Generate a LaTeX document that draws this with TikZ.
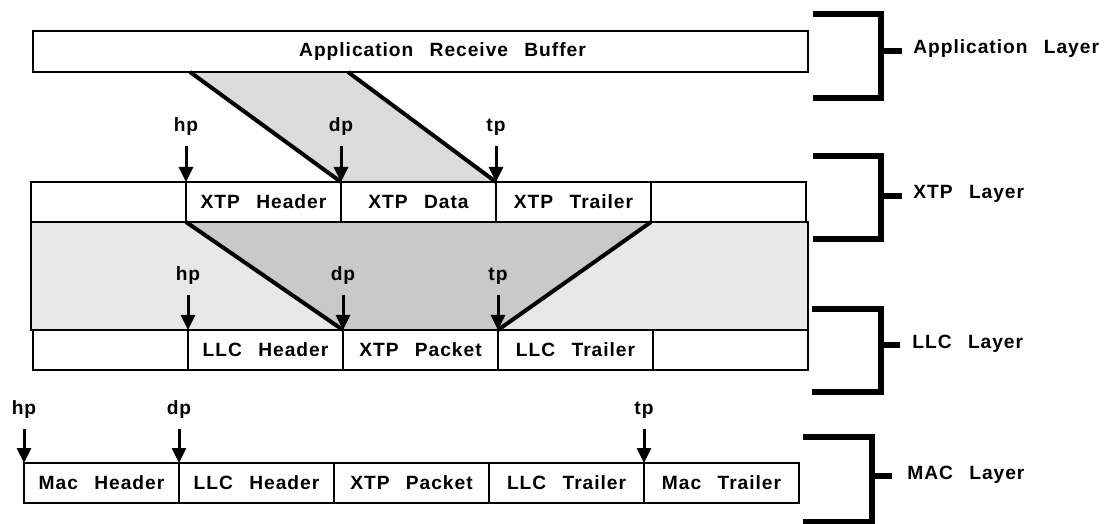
\documentclass[tikz,border=0pt]{standalone}
\usepackage{fontspec}
\setsansfont{Liberation Sans}[LetterSpace=5,WordSpace=2.6]
\usetikzlibrary{arrows.meta,positioning,backgrounds}
\newcommand\lbfont{\sffamily\bfseries\fontsize{9.6}{11}\selectfont}

\begin{document}
\begin{tikzpicture}[x=0.5pt,y=-0.5pt,
  cell/.style={draw,line width=1.3pt,fill=white,outer sep=0pt,inner sep=0pt,
    minimum width=77.5pt,minimum height=20pt,anchor=north west,font=\lbfont},
  ptrlabel/.style={inner sep=1pt,font=\lbfont},
  ptr/.style={line width=1.5pt,-{Triangle[length=7.5pt,width=7pt]},shorten <=4pt},
  slant/.style={line width=2pt},
  brace/.style={line width=3.3pt},
  layer/.style={anchor=west,inner sep=0pt,font=\lbfont}]
\useasboundingbox (0,0) rectangle (1105,524);

\node[cell,minimum width=387.5pt,minimum height=20.5pt] (buf) at (33,31) {\hspace{22pt}Application Receive Buffer};
\coordinate (p1) at (190,72);
\coordinate (p2) at (348,72);

\node[cell] (x0) at (31,182) {};
\node[cell,right=0pt of x0] (xhdr) {XTP Header};
\node[cell,right=0pt of xhdr] (xdat) {XTP Data};
\node[cell,right=0pt of xdat] (xtrl) {XTP Trailer};
\node[cell,right=0pt of xtrl] (x4) {};

\node[cell] (l0) at (33,330) {};
\node[cell,right=0pt of l0] (lhdr) {LLC Header};
\node[cell,right=0pt of lhdr] (lpkt) {XTP Packet};
\node[cell,right=0pt of lpkt] (ltrl) {LLC Trailer};
\node[cell,right=0pt of ltrl] (l4) {};

\node[cell] (mhdr) at (24,463) {Mac Header};
\node[cell,right=0pt of mhdr] (mlhdr) {LLC Header};
\node[cell,right=0pt of mlhdr] (mpkt) {XTP Packet};
\node[cell,right=0pt of mpkt] (mltrl) {LLC Trailer};
\node[cell,right=0pt of mltrl] (mtrl) {Mac Trailer};

\begin{scope}[on background layer]
\fill[gray!28] (p1) -- (p2) -- (xdat.north east) -- (xdat.north west) -- cycle;
\filldraw[fill=gray!18,line width=1.3pt] (x0.south west) rectangle (l4.north east);
\fill[gray!42] (xhdr.south west) -- (xtrl.south east) -- (ltrl.north west) -- (lpkt.north west) -- cycle;
\end{scope}
\draw[slant] (p1) -- (xdat.north west) (p2) -- (xdat.north east);
\draw[slant] (xhdr.south west) -- (lpkt.north west) (xtrl.south east) -- (ltrl.north west);

\node[ptrlabel] (xhp) at (186,127) {hp};
\node[ptrlabel] (xdp) at (341,127) {dp};
\node[ptrlabel] (xtp) at (496,127) {tp};
\draw[ptr] (xhp) -- (xhdr.north west);
\draw[ptr] (xdp) -- (xdat.north west);
\draw[ptr] (xtp) -- (xtrl.north west);

\node[ptrlabel] (lhp) at (188,276) {hp};
\node[ptrlabel] (ldp) at (343,276) {dp};
\node[ptrlabel] (ltp) at (498,276) {tp};
\draw[ptr] (lhp) -- (lhdr.north west);
\draw[ptr] (ldp) -- (lpkt.north west);
\draw[ptr] (ltp) -- (ltrl.north west);

\node[ptrlabel] (mhp) at (24,410) {hp};
\node[ptrlabel] (mdp) at (179,410) {dp};
\node[ptrlabel] (mtp) at (644,410) {tp};
\draw[ptr] (mhp) -- (mhdr.north west);
\draw[ptr] (mdp) -- (mlhdr.north west);
\draw[ptr] (mtp) -- (mtrl.north west);

\draw[brace] (813,14) -- (881,14) -- (881,98) -- (813,98) (881,51) -- (902,51);
\node[layer] (applayer) at (913,49) {Application Layer};
\draw[brace] (813,156) -- (881,156) -- (881,239) -- (813,239) (881,196) -- (902,196);
\node[layer] (xtplayer) at (913,194) {XTP Layer};
\draw[brace] (812,309) -- (881,309) -- (881,392) -- (812,392) (881,345) -- (900,345);
\node[layer] (llclayer) at (912,344) {LLC Layer};
\draw[brace] (803,437) -- (872,437) -- (872,522) -- (803,522) (872,476) -- (892,476);
\node[layer] (maclayer) at (907,475) {MAC Layer};
\end{tikzpicture}
\end{document}
